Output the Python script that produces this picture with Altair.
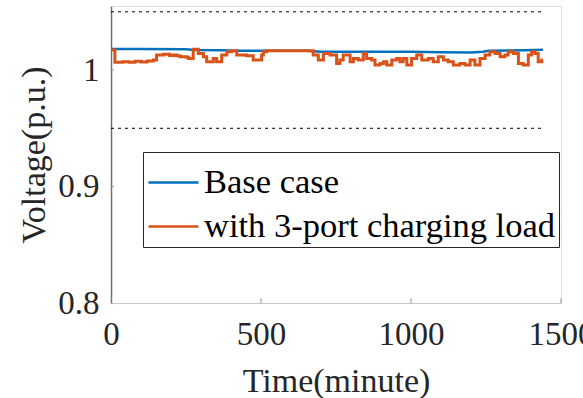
import altair as alt
import pandas as pd

# ---- data ----
series_names = ["Base case", "with 3-port charging load"]
series_colors = ["#0072BD", "#D95319"]

base_time = [0, 100, 250, 280, 380, 400, 650, 700, 1000, 1100, 1200, 1240, 1260, 1380, 1440]
base_volt = [1.0180, 1.0180, 1.0178, 1.0172, 1.0170, 1.0165, 1.0165, 1.0158, 1.0157,
             1.0152, 1.0150, 1.0158, 1.0165, 1.0170, 1.0175]

ev_time = [0, 13, 40, 60, 80, 100, 120, 141, 152, 175, 195, 208, 219, 230, 252, 258,
           274, 291, 308, 319, 341, 352, 369, 386, 402, 419, 452, 474, 486, 502, 508,
           519, 658, 674, 691, 708, 730, 752, 763, 774, 797, 808, 824, 841, 852, 869,
           880, 897, 908, 919, 936, 952, 963, 974, 986, 1002, 1019, 1036, 1058, 1074,
           1091, 1108, 1124, 1141, 1163, 1180, 1197, 1213, 1230, 1247, 1263, 1280,
           1297, 1313, 1324, 1341, 1358, 1374, 1391, 1402, 1413, 1424, 1436, 1440]
ev_volt = [1.0172, 1.0068, 1.0072, 1.0066, 1.0075, 1.0070, 1.0078, 1.0086, 1.0129,
           1.0136, 1.0125, 1.0129, 1.0122, 1.0114, 1.0110, 1.0100, 1.0178, 1.0143,
           1.0114, 1.0072, 1.0100, 1.0072, 1.0129, 1.0157, 1.0166, 1.0129, 1.0122,
           1.0086, 1.0086, 1.0129, 1.0157, 1.0166, 1.0166, 1.0129, 1.0086, 1.0143,
           1.0129, 1.0057, 1.0086, 1.0129, 1.0072, 1.0100, 1.0086, 1.0143, 1.0100,
           1.0086, 1.0043, 1.0057, 1.0072, 1.0043, 1.0086, 1.0100, 1.0072, 1.0100,
           1.0043, 1.0100, 1.0129, 1.0086, 1.0100, 1.0072, 1.0114, 1.0086, 1.0072,
           1.0043, 1.0057, 1.0043, 1.0086, 1.0043, 1.0100, 1.0129, 1.0157, 1.0143,
           1.0114, 1.0129, 1.0157, 1.0143, 1.0057, 1.0043, 1.0129, 1.0157, 1.0143,
           1.0072, 1.0086, 1.0086]

limit_values = [0.95, 1.05]
limit_start = 0
limit_end = 1440

x_ticks = [0, 500, 1000, 1500]
y_ticks = [0.8, 0.9, 1.0]
x_domain = [0, 1500]
y_domain = [0.8, 1.055]

FONT = "Liberation Serif"
TXT = "#262626"

base_df = pd.DataFrame({"t": base_time, "v": base_volt, "series": series_names[0]})
ev_df = pd.DataFrame({"t": ev_time, "v": ev_volt, "series": series_names[1]})
lim_df = pd.DataFrame({"v": limit_values, "t0": limit_start, "t1": limit_end})
xt_df = pd.DataFrame({"t": x_ticks[1:], "v0": y_domain[0], "v1": y_domain[0] + 0.004})
yt_df = pd.DataFrame({"v": y_ticks[1:], "t0": x_domain[0], "t1": x_domain[0] + 10})

xscale = alt.Scale(domain=x_domain, nice=False, zero=False)
yscale = alt.Scale(domain=y_domain, nice=False, zero=False)
cscale = alt.Scale(domain=series_names, range=series_colors)

x_axis = alt.Axis(values=x_ticks, format="d", title="Time(minute)", grid=False,
                  ticks=False, domainColor="#c8c8c8", domainWidth=1.2,
                  labelFont=FONT, labelFontSize=33, labelColor=TXT, labelPadding=15,
                  labelFlush=False, labelOverlap=False,
                  titleFont=FONT, titleFontSize=34, titleColor=TXT,
                  titleFontWeight="normal", titlePadding=13)
y_axis = alt.Axis(values=y_ticks, format="~g", title="Voltage(p.u.)", grid=False,
                  ticks=False, domainColor="#707070", domainWidth=1.5,
                  labelFont=FONT, labelFontSize=33, labelColor=TXT, labelPadding=12,
                  labelFlush=False, labelOverlap=False,
                  titleFont=FONT, titleFontSize=34, titleColor=TXT,
                  titleFontWeight="normal", titlePadding=6)

legend = alt.Legend(title=None, orient="none", legendX=32, legendY=146,
                    symbolType="stroke", symbolSize=2500, symbolStrokeWidth=2.5,
                    labelFont=FONT, labelFontSize=34.5, labelColor="black",
                    labelOffset=4, padding=4, rowPadding=1,
                    strokeColor="#262626", fillColor="white", labelLimit=600)

limits = alt.Chart(lim_df).mark_rule(color="black", strokeWidth=1, strokeDash=[3, 4]).encode(
    x=alt.X("t0:Q", scale=xscale, axis=x_axis),
    x2="t1:Q",
    y=alt.Y("v:Q", scale=yscale, axis=y_axis),
)

xticks_l = alt.Chart(xt_df).mark_rule(color="#909090", strokeWidth=1).encode(
    x=alt.X("t:Q", scale=xscale), y=alt.Y("v0:Q", scale=yscale), y2="v1:Q")
yticks_l = alt.Chart(yt_df).mark_rule(color="#909090", strokeWidth=1).encode(
    x=alt.X("t0:Q", scale=xscale), x2="t1:Q", y=alt.Y("v:Q", scale=yscale))

base_line = alt.Chart(base_df).mark_line(strokeWidth=2.5).encode(
    x=alt.X("t:Q", scale=xscale),
    y=alt.Y("v:Q", scale=yscale),
    color=alt.Color("series:N", scale=cscale, legend=legend),
)
ev_line = alt.Chart(ev_df).mark_line(strokeWidth=3, interpolate="step-after").encode(
    x=alt.X("t:Q", scale=xscale),
    y=alt.Y("v:Q", scale=yscale),
    color=alt.Color("series:N", scale=cscale, legend=legend),
)

chart = alt.layer(limits, xticks_l, yticks_l, base_line, ev_line).properties(
    width=450, height=297,
    autosize=alt.AutoSizeParams(type="none"),
    padding={"left": 111, "top": 6, "right": 22, "bottom": 95},
).configure_view(stroke=None).configure(background="white")

chart.save("out.html", embed_options={"renderer": "svg", "actions": False})
